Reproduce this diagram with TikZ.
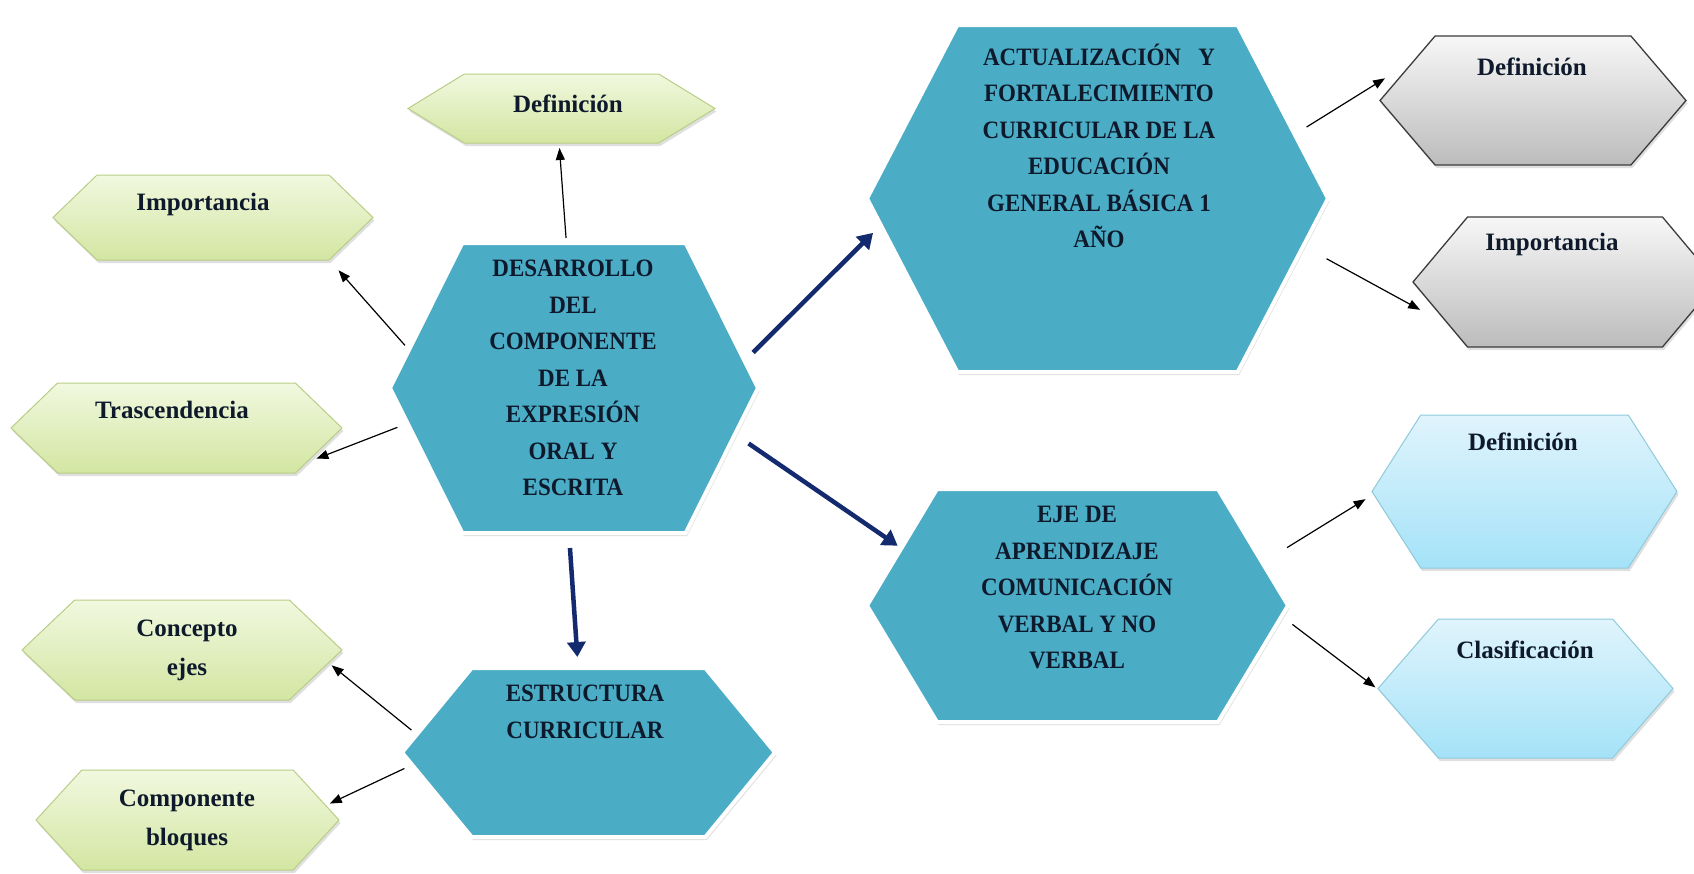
\documentclass[tikz,border=0pt]{standalone}
\usepackage{fontspec}
\setmainfont{Liberation Serif}
\newfontfamily\hexcondensed{Liberation Serif}[FakeStretch=0.92]
\usetikzlibrary{shapes.symbols,shadows,arrows.meta}
\definecolor{hexblue}{HTML}{4BACC6}
\definecolor{arrownavy}{RGB}{20,42,110}
\definecolor{inkdark}{HTML}{0E1A2B}
\definecolor{greentop}{HTML}{F1F8DF}
\definecolor{greenbot}{HTML}{D3E6A2}
\definecolor{greenline}{HTML}{B9CD86}
\definecolor{graytop}{HTML}{F7F7F7}
\definecolor{graybot}{HTML}{BCBCBC}
\definecolor{grayline}{HTML}{3C3C3C}
\definecolor{skytop}{HTML}{E0F4FC}
\definecolor{skybot}{HTML}{A4E2F8}
\definecolor{skyline}{HTML}{8FCADB}
\newcommand\hexstrut{\rule{0pt}{25pt}}

\begin{document}
\begin{tikzpicture}[x=1pt,y=-1pt,
  hex node/.style={shape=signal,signal to=west and east,inner sep=0pt,outer sep=0pt,
    drop shadow={shadow xshift=1.5pt,shadow yshift=-3pt,opacity=.25}},
  blue node/.style={hex node,fill=hexblue,draw=white,line width=4pt},
  green node/.style={hex node,top color=greentop,bottom color=greenbot,draw=greenline,line width=1pt},
  gray node/.style={hex node,top color=graytop,bottom color=graybot,draw=grayline,line width=1.3pt},
  sky node/.style={hex node,top color=skytop,bottom color=skybot,draw=skyline,line width=1pt},
  head text/.style={font=\hexcondensed\bfseries\fontsize{25}{36.5}\selectfont,text=inkdark,align=center,anchor=north,inner sep=0pt},
  tag text/.style={font=\bfseries\fontsize{25}{38.5}\selectfont,text=inkdark,align=center,inner sep=0pt},
  thin arrow/.style={draw=black,line width=1.2pt,-{Triangle[length=12pt,width=9pt]}},
  thick arrow/.style={draw=arrownavy,line width=4.5pt,-{Triangle[length=15pt,width=18pt]}}]

  \useasboundingbox (0,0) rectangle (1694,873);

  \node[green node,minimum width=307pt,minimum height=69pt,signal pointer angle=63] (defG) at (561.5,108.5) {};
  \node[green node,minimum width=320pt,minimum height=85pt,signal pointer angle=88] (impG) at (213,217.5) {};
  \node[green node,minimum width=331pt,minimum height=90pt,signal pointer angle=88] (traG) at (176.5,428) {};
  \node[green node,minimum width=320pt,minimum height=100pt,signal pointer angle=87] (conG) at (182,650) {};
  \node[green node,minimum width=303pt,minimum height=100pt,signal pointer angle=95] (comG) at (187.5,820) {};

  \node[blue node,minimum width=368pt,minimum height=290pt,signal pointer angle=127] (centr) at (574,388) {};
  \node[blue node,minimum width=461pt,minimum height=347pt,signal pointer angle=125] (actu) at (1097.5,198.5) {};
  \node[blue node,minimum width=421pt,minimum height=233pt,signal pointer angle=118] (eje) at (1077.5,605.5) {};
  \node[blue node,minimum width=373pt,minimum height=169pt,signal pointer angle=101] (estr) at (588.5,752.5) {};

  \node[gray node,minimum width=306pt,minimum height=129pt,signal pointer angle=99] (grayD) at (1533,100.5) {};
  \node[gray node,minimum width=304pt,minimum height=130pt,signal pointer angle=100] (grayI) at (1565,282) {};
  \node[sky node,minimum width=305pt,minimum height=153pt,signal pointer angle=115] (skyD) at (1524.5,491.5) {};
  \node[sky node,minimum width=295pt,minimum height=139pt,signal pointer angle=98] (skyC) at (1525.5,688.5) {};

  \node[head text] (centr-t) at (573,251.7) {\hexstrut DESARROLLO\\DEL\\COMPONENTE\\DE LA\\EXPRESIÓN\\ORAL Y\\ESCRITA};
  \node[head text] (actu-t) at (1099,40) {\hexstrut ACTUALIZACIÓN\ \ \ Y\\FORTALECIMIENTO\\CURRICULAR DE LA\\EDUCACIÓN\\GENERAL BÁSICA 1\\AÑO};
  \node[head text] (eje-t) at (1077,497.5) {\hexstrut EJE DE\\APRENDIZAJE\\COMUNICACIÓN\\VERBAL Y NO\\VERBAL};
  \node[head text] (estr-t) at (585,676.7) {\hexstrut ESTRUCTURA\\CURRICULAR};

  \node[tag text,anchor=base] (defG-t) at (568,112) {Definición};
  \node[tag text,anchor=base] (impG-t) at (203,210) {Importancia};
  \node[tag text,anchor=base] (traG-t) at (172,418) {Trascendencia};
  \node[tag text,anchor=north] (conG-t) at (187,611.7) {\hexstrut Concepto\\ejes};
  \node[tag text,anchor=north] (comG-t) at (187,781.7) {\hexstrut Componente\\bloques};
  \node[tag text,anchor=base] (grayD-t) at (1532,75) {Definición};
  \node[tag text,anchor=base] (grayI-t) at (1552,250) {Importancia};
  \node[tag text,anchor=base] (skyD-t) at (1523,450) {Definición};
  \node[tag text,anchor=base] (skyC-t) at (1525,658) {Clasificación};

  \path[every edge/.style={thin arrow}]
   (centr.93) edge[shorten <=5pt,shorten >=5pt] (defG.-94)
   (centr.167.5) edge[shorten <=6pt,shorten >=14pt] (impG.-20)
   (centr.192) edge[shorten <=11pt,shorten >=11pt] (traG.-15)
   (estr.174) edge[shorten <=7pt,shorten >=4pt] (conG.-5.7)
   (estr.184.7) edge[shorten <=8.5pt,shorten >=4.5pt] (comG.6.8)
   (actu.18) edge[shorten <=14pt,shorten >=35pt] (grayD.161)
   (actu.-13) edge[shorten <=26.5pt,shorten >=34pt] (grayI.201)
   (eje.13) edge[shorten <=29pt,shorten >=9.5pt] (skyD.181)
   (eje.-3.2) edge[shorten <=13.5pt,shorten >=6pt] (skyC.181);

  \path[every edge/.style={thick arrow}]
   (centr.9.5) edge[shorten <=12pt,shorten >=11pt] (actu.187)
   (centr.-16.6) edge[shorten <=16.5pt,shorten >=4.5pt] (eje.162.4)
   (centr.-92.4) edge[shorten <=15pt,shorten >=11pt] (estr.97.4);
\end{tikzpicture}
\end{document}
